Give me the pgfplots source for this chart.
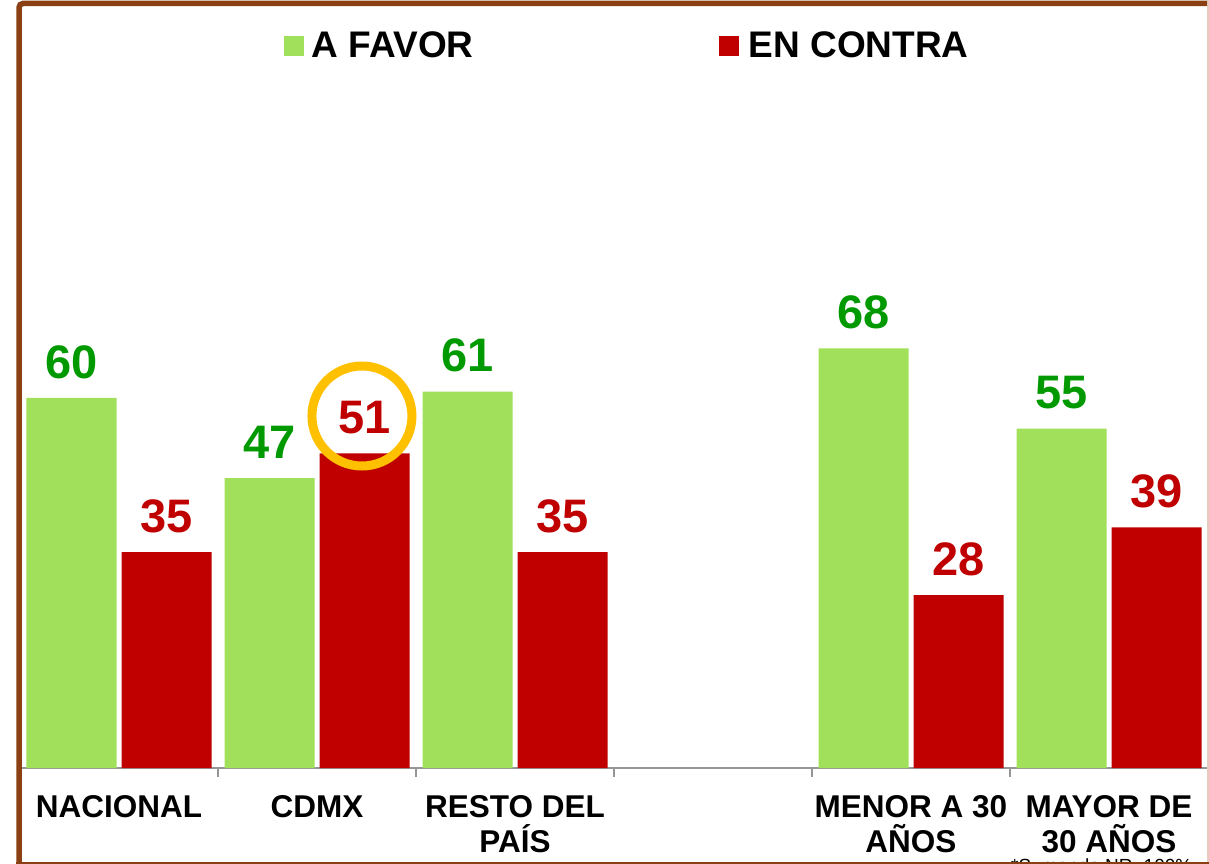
\documentclass[border=0pt]{standalone}
\usepackage{pgfplots}
\pgfplotsset{compat=1.18}
\usepackage{fontspec}
\setmainfont{Liberation Sans}
\definecolor{barGreen}{RGB}{160,224,90}
\definecolor{barRed}{RGB}{192,0,0}
\definecolor{lblGreen}{RGB}{0,153,0}
\definecolor{lblRed}{RGB}{192,0,0}
\definecolor{frameBrown}{RGB}{139,64,19}
\definecolor{ringOrange}{RGB}{255,192,0}
\definecolor{axisGray}{RGB}{150,150,150}
\definecolor{paleEdge}{RGB}{228,205,190}
\begin{document}
\begin{tikzpicture}[x=1pt,y=1pt]
\useasboundingbox (0,0) rectangle (1209,863);
\clip (0,0) rectangle (1209,863);
\fill[white] (0,0) rectangle (1209,863);
\begin{axis}[
  at={(20pt,95pt)}, anchor=south west,
  scale only axis, width=1188pt, height=762pt,
  xmin=-0.5, xmax=5.5, ymin=0, ymax=123.5,
  ybar=5pt, bar width=90pt,
  clip=false,
  axis x line*=bottom, axis y line=none,
  x axis line style={-, draw=axisGray, line width=1.5pt},
  xtick={0,1,2,3,4,5},
  xticklabels={NACIONAL, CDMX, {RESTO DEL\\PAÍS}, {}, {MENOR A 30\\AÑOS}, {MAYOR DE\\30 AÑOS}},
  major tick length=0pt,
  minor xtick={-0.5,0.5,1.5,2.5,3.5,4.5,5.5},
  minor x tick style={draw=axisGray, line width=1.5pt},
  minor tick length=9pt,
  tick align=outside,
  xtick pos=bottom,
  xticklabel style={font=\fontsize{31.5}{35}\selectfont\bfseries, align=center, inner sep=0pt, yshift=-27pt},
  /pgf/number format/assume math mode=true,
  nodes near coords,
  nodes near coords style={font=\fontsize{47}{50}\selectfont\bfseries, inner sep=0pt, anchor=south, yshift=19pt},
  legend columns=2,
  legend style={draw=none, fill=none, inner sep=0pt, outer sep=0pt,
    at={(0.2222,0.9659)}, anchor=north west,
    font=\fontsize{37}{40}\selectfont\bfseries,
    nodes={inner sep=0pt, outer sep=0pt},
    /tikz/every even column/.append style={column sep=245pt}},
]
\addplot[fill=barGreen, draw=none,
  every node near coord/.append style={text=lblGreen},
  legend image code/.code={\fill[barGreen] (0pt,-10pt) rectangle (20pt,10pt); \path (28pt,0pt);}]
  coordinates {(0,60) (1,47) (2,61) (4,68) (5,55)};
\addlegendentry{A FAVOR}
\addplot[fill=barRed, draw=none,
  every node near coord/.append style={text=lblRed},
  legend image code/.code={\fill[barRed] (0pt,-10pt) rectangle (20pt,10pt); \path (30pt,0pt);}]
  coordinates {(0,35) (1,51) (2,35) (4,28) (5,39)};
\addlegendentry{EN CONTRA}
\draw[ringOrange, line width=9pt] (axis cs:1.227,57.05) circle[radius=50pt];
\end{axis}
\node[anchor=base west, inner sep=0pt, font=\fontsize{19}{20}\selectfont] at (1011,-9.5) {*Sumando NR=100\%};
\draw[paleEdge, line width=1.5pt] (1208.2,0) -- (1208.2,863);
\draw[frameBrown, line width=5.5pt, rounded corners=4pt] (19,-3) -- (19,859.5) -- (1207,859.5);
\draw[frameBrown, line width=3pt] (16,0) -- (1209,0);
\end{tikzpicture}
\end{document}
